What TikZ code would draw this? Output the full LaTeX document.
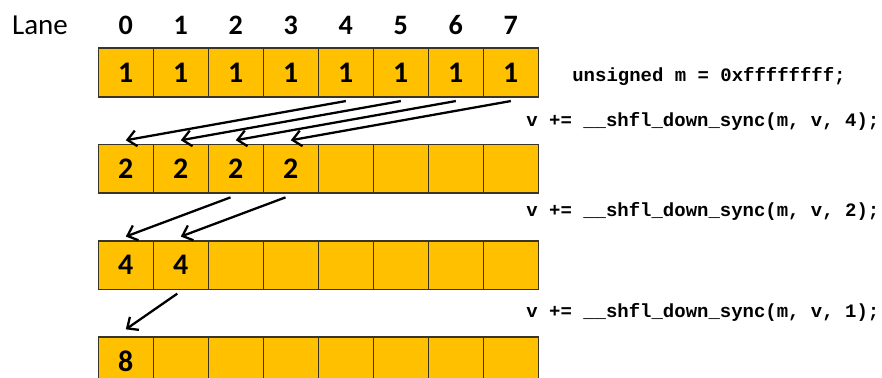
\documentclass[tikz,border=0pt]{standalone}
\usepackage{fontspec}
\setmainfont{Carlito}
\newfontfamily\codefont{Liberation Mono}
\usetikzlibrary{arrows.meta, positioning}
\definecolor{cellgold}{HTML}{FFC000}
\definecolor{celledge}{HTML}{3A3426}

\begin{document}
\begin{tikzpicture}[
  x=0.02cm, y=-0.02cm,
  cell/.style={rectangle, draw=celledge, line width=0.9pt, fill=cellgold, minimum width=1.1cm, minimum height=0.97cm, inner sep=0pt, font=\bfseries\fontsize{17}{17}\selectfont},
  lane/.style={inner sep=0pt, font=\bfseries\fontsize{16}{16}\selectfont},
  code/.style={anchor=west, inner sep=0pt, font=\codefont\bfseries\fontsize{10.8}{12}\selectfont},
  arrow/.style={line width=1.3pt, -{Straight Barb[length=5pt, width=9pt]}}
]
\useasboundingbox (0,0) rectangle (882,378);
\clip (0,0) rectangle (882,378);

% warp lanes
\node (lanelabel) [inner sep=0pt, font=\fontsize{16.5}{16}\selectfont] at (40,25) {Lane};
\foreach \i in {0,...,7}
  \node (lane\i) [lane] at (125.8+55*\i, 25) {\i};

% one row of registers per step: row / filled cells / value
\foreach \r/\cnt/\val in {0/8/1, 1/4/2, 2/2/4, 3/1/8}{
  \foreach \i in {0,...,7}{
    \node (c\r-\i) [cell] at (125.8+55*\i, 72.5+96.3*\r) {\ifnum\i<\cnt\relax\val\fi};
  }
}

\node (mask) [code] at (572,76) {unsigned m = 0xffffffff;};
\node (step4) [code] at (526,121) {v += \_\_shfl\_down\_sync(m, v, 4);};
\node (step2) [code] at (526,211) {v += \_\_shfl\_down\_sync(m, v, 2);};
\node (step1) [code] at (526,312) {v += \_\_shfl\_down\_sync(m, v, 1);};

\foreach \a/\b in {4/0,5/1,6/2,7/3}
  \draw [arrow] ([yshift=-2pt]c0-\a.south) -- ([yshift=2pt]c1-\b.north);
\foreach \a/\b in {2/0,3/1}
  \draw [arrow] ([xshift=-3pt, yshift=-2pt]c1-\a.south) -- ([yshift=2pt]c2-\b.north);
\draw [arrow] ([xshift=-2pt, yshift=-2pt]c2-1.south) -- ([yshift=4pt]c3-0.north);
\end{tikzpicture}
\end{document}
